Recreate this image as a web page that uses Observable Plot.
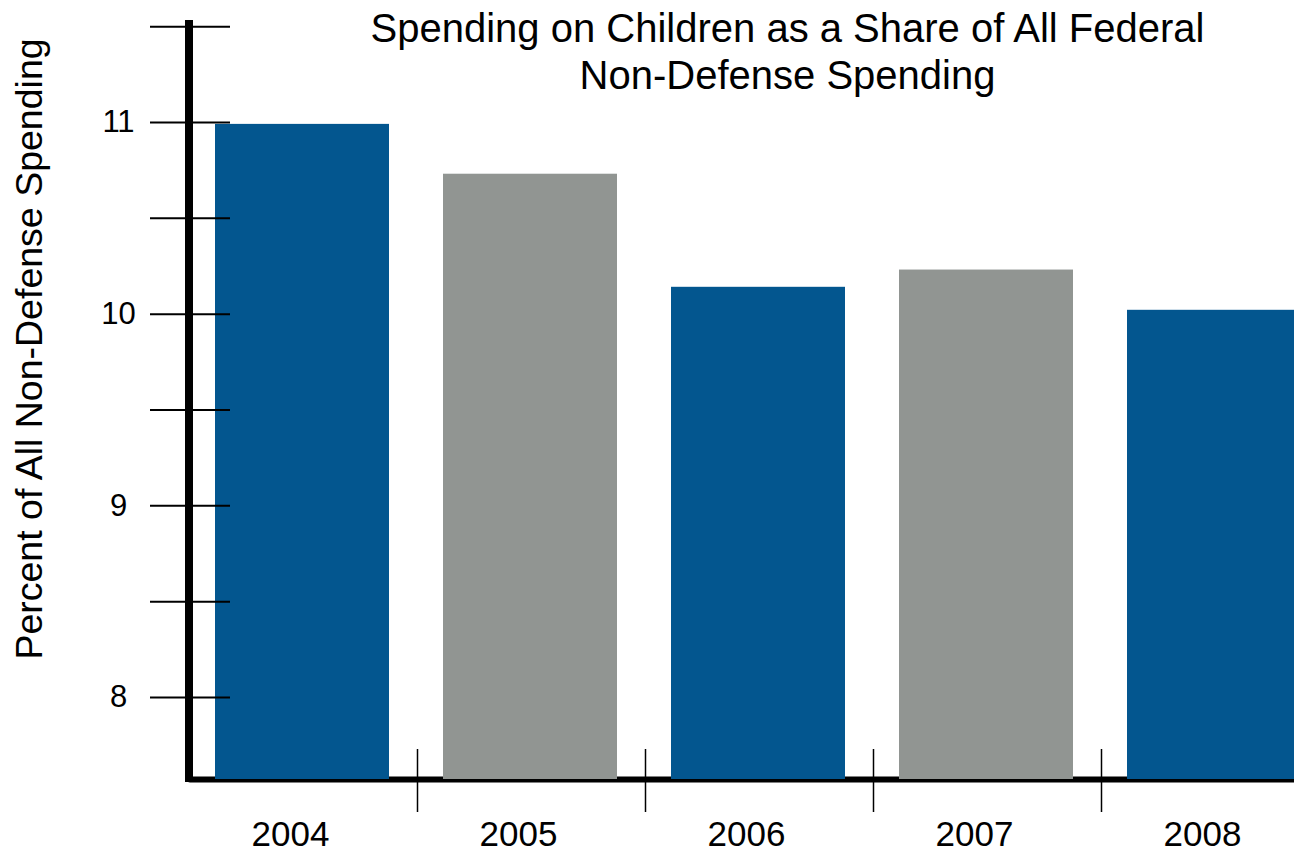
<!DOCTYPE html>
<html>
<head>
<meta charset="utf-8">
<script src="https://cdn.jsdelivr.net/npm/d3@7"></script>
<script src="https://cdn.jsdelivr.net/npm/@observablehq/plot@0.6"></script>
<style>
  html, body { margin: 0; padding: 0; background: #fff; }
  svg { display: block; }
</style>
</head>
<body>
<div id="chart"></div>
<script>
// ---- data ----
const years = ["2004", "2005", "2006", "2007", "2008"];
const shares = [10.99, 10.73, 10.14, 10.23, 10.02];
const majorTicks = [8, 9, 10, 11];
const minorTicks = [8, 8.5, 9, 9.5, 10, 10.5, 11, 11.5];
const titleText = "Spending on Children as a Share of All Federal\nNon-Defense Spending";
const yLabelText = "Percent of All Non-Defense Spending";
const yMin = 7.572, yMax = 11.532;

const data = years.map((year, i) => ({year, share: shares[i], i}));
const BLUE = "#03568f";
const GRAY = "#919592";
const FONT = "'Liberation Sans', Arial, Helvetica, sans-serif";

function leftAxisLine(index, scales, values, dims) {
  const ns = "http://www.w3.org/2000/svg";
  const line = document.createElementNS(ns, "line");
  const x = dims.marginLeft - 1;
  line.setAttribute("x1", x);
  line.setAttribute("x2", x);
  line.setAttribute("y1", dims.marginTop);
  line.setAttribute("y2", dims.height - dims.marginBottom + 3);
  line.setAttribute("stroke", "#000");
  line.setAttribute("stroke-width", 8);
  return line;
}

const chart = Plot.plot({
  width: 1294,
  height: 852,
  marginLeft: 190,
  marginRight: 0,
  marginTop: 20,
  marginBottom: 73,
  style: {fontFamily: FONT, background: "#fff", color: "#000", overflow: "visible"},
  x: {type: "band", domain: years, range: [215, 1301], paddingInner: 0.237, paddingOuter: 0},
  y: {domain: [yMin, yMax]},
  color: {type: "identity"},
  marks: [
    // bottom axis line
    Plot.ruleY([yMin], {stroke: "#000", strokeWidth: 6, strokeLinecap: "round"}),
    // bars
    Plot.barY(data, {x: "year", y1: yMin, y2: "share", fill: d => (d.i % 2 ? GRAY : BLUE)}),
    // y ticks crossing the axis
    Plot.axisY(minorTicks, {tickSize: 80, dx: 40, strokeWidth: 2, fill: "none", label: null}),
    // y tick labels
    Plot.text(majorTicks, {y: d => d, text: d => String(d), frameAnchor: "left", dx: -72,
      textAnchor: "middle", fontSize: 31, fill: "#000"}),
    // category separators
    Plot.axisX(years.slice(0, 4), {tickSize: 63, dy: -30, dx: 115, strokeWidth: 1.5, fill: "none", label: null}),
    // year labels
    Plot.axisX({tickSize: 0, tickPadding: 42, dx: -12, fontSize: 35, label: null, fill: "#000"}),
    // left axis line
    leftAxisLine,
    // y-axis title
    Plot.text([yLabelText], {frameAnchor: "left", textAnchor: "middle", rotate: -90, dx: -161, dy: -51,
      fontSize: 37.5, fill: "#000"}),
    // chart title
    Plot.text([titleText], {frameAnchor: "top", lineAnchor: "top", dx: 45, dy: -12, fontSize: 40,
      lineHeight: 1.18, fill: "#000"})
  ]
});

document.getElementById("chart").appendChild(chart);
</script>
</body>
</html>
